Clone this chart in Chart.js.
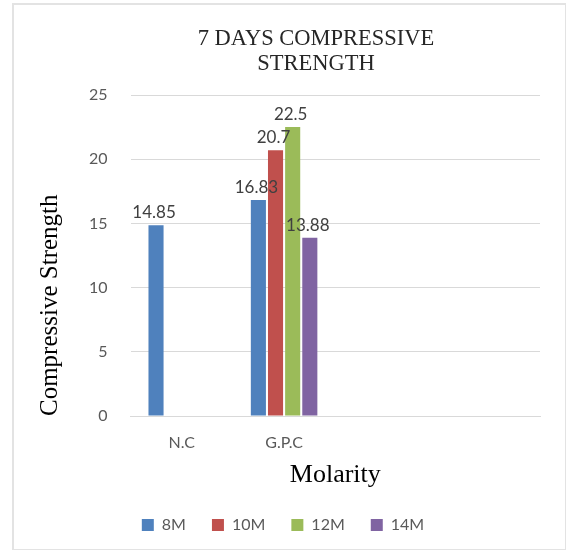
<!DOCTYPE html>
<html>
<head>
<meta charset="utf-8">
<script src="https://cdn.jsdelivr.net/npm/chart.js@4.4.1/dist/chart.umd.min.js"></script>
<style>
    body { margin: 0; background: #fff; overflow: hidden; }
    .frame {
        position: absolute;
        left: 12px; top: 3px;
        width: 551px; height: 544px;
        border: 2px solid #e3e3e3;
    }
    .titulo {
        position: absolute;
        left: 166px; top: 25px; width: 300px;
        text-align: center;
        font-family: "Liberation Serif", "Times New Roman", serif;
        font-size: 22.5px;
        line-height: 25px;
        color: #262626;
    }
    canvas { position: absolute; left: 0; top: 0; }
</style>
</head>
<body>
<div class="frame">
    <canvas id="grafico" width="551" height="544"></canvas>
</div>
<div class="titulo">7 DAYS COMPRESSIVE<br>STRENGTH</div>

<script>
// dados do ensaio de 7 dias
var categorias = ['N.C', 'G.P.C', '', ''];
var series = ['8M', '10M', '12M', '14M'];
var cores = ['#4F81BD', '#C0504D', '#9BBB59', '#8064A2'];
var valores8M = [14.85, 16.83, null, null];
var valores10M = [null, 20.7, null, null];
var valores12M = [null, 22.5, null, null];
var valores14M = [null, 13.88, null, null];
var ticksY = [0, 5, 10, 15, 20, 25];

var todosValores = [valores8M, valores10M, valores12M, valores14M];

var fonteSans = 'Lato, "Liberation Sans", sans-serif';
var fonteSerif = '"Liberation Serif", "Times New Roman", serif';

// escreve o valor em cima de cada barra
var rotulosBarras = {
    id: 'rotulosBarras',
    afterDatasetsDraw: function (chart) {
        var ctx = chart.ctx;
        ctx.save();
        ctx.font = '17px ' + fonteSans;
        ctx.fillStyle = '#404040';
        ctx.textAlign = 'center';
        ctx.textBaseline = 'bottom';
        chart.data.datasets.forEach(function (ds, i) {
            var meta = chart.getDatasetMeta(i);
            meta.data.forEach(function (barra, j) {
                var v = ds.data[j];
                if (v === null || v === undefined) return;
                ctx.fillText(String(v), barra.x - 2, barra.y - 4);
            });
        });
        ctx.restore();
    }
};

var datasets = [];
for (var i = 0; i < series.length; i++) {
    datasets.push({
        label: series[i],
        data: todosValores[i],
        backgroundColor: cores[i],
        borderWidth: 0,
        categoryPercentage: 0.67,
        barPercentage: 0.88
    });
}

var ctx = document.getElementById('grafico');
var myChart = new Chart(ctx, {
    type: 'bar',
    data: {
        labels: categorias,
        datasets: datasets
    },
    plugins: [rotulosBarras],
    options: {
        responsive: false,
        animation: false,
        layout: {
            padding: { top: 90, right: 25, bottom: 6, left: 12 }
        },
        plugins: {
            title: { display: false },
            tooltip: { enabled: false },
            legend: {
                position: 'bottom',
                labels: {
                    boxWidth: 12,
                    boxHeight: 12,
                    padding: 26,
                    color: '#595959',
                    font: { family: fonteSans, size: 16 }
                }
            }
        },
        scales: {
            x: {
                afterFit: function (scale) {
                    scale.height = 75;
                },
                grid: { display: false, drawTicks: false },
                border: { color: '#d9d9d9', width: 1 },
                ticks: {
                    padding: 17,
                    color: '#595959',
                    font: { family: fonteSans, size: 16 }
                },
                title: {
                    display: true,
                    text: 'Molarity',
                    color: '#000',
                    padding: { top: 0, bottom: 0 },
                    font: { family: fonteSerif, size: 26 }
                }
            },
            y: {
                min: 0,
                max: 25,
                afterBuildTicks: function (axis) {
                    axis.ticks = ticksY.map(function (v) { return { value: v }; });
                },
                grid: { color: '#d9d9d9', drawTicks: false },
                border: { display: false },
                ticks: {
                    padding: 23,
                    color: '#595959',
                    font: { family: fonteSans, size: 16 }
                },
                title: {
                    display: true,
                    text: 'Compressive Strength',
                    align: 'start',
                    color: '#000',
                    padding: { top: 9, bottom: 1 },
                    font: { family: fonteSerif, size: 25 }
                }
            }
        }
    }
});
</script>
</body>
</html>
